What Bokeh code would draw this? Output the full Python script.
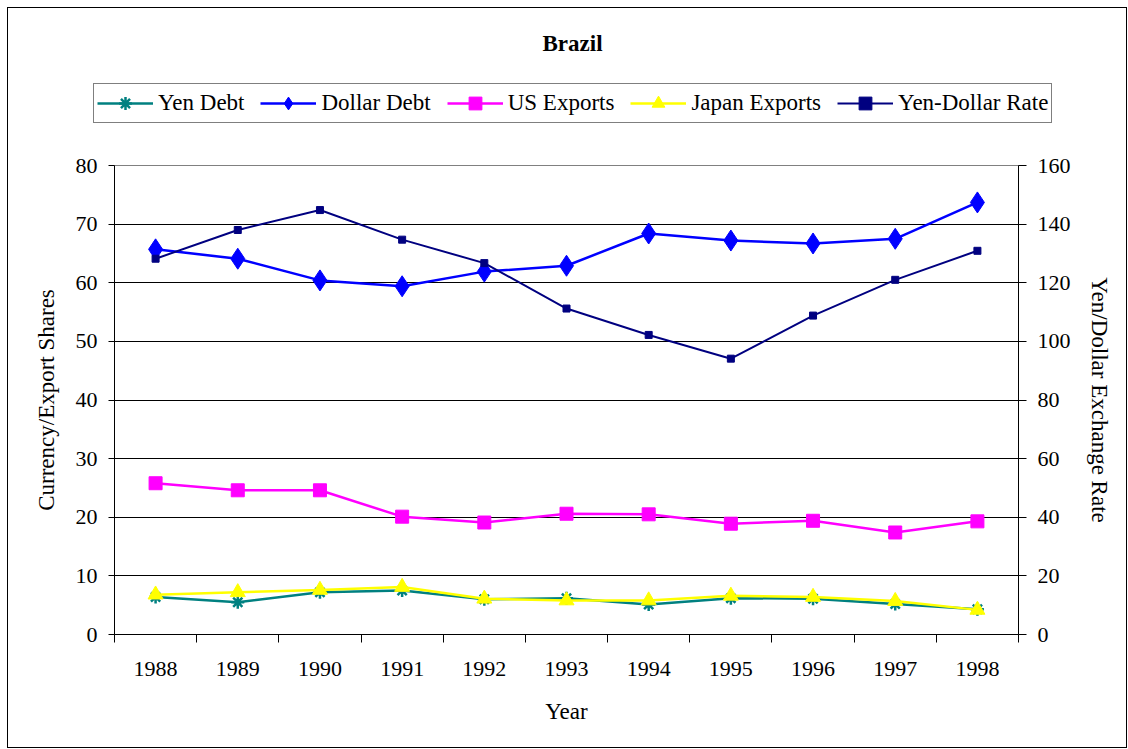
from bokeh.plotting import figure
from bokeh.models import (Range1d, LinearAxis, FixedTicker, Legend, LegendItem, Label)
from bokeh.layouts import column
from bokeh.embed import file_html
from bokeh.resources import INLINE

years = [1988, 1989, 1990, 1991, 1992, 1993, 1994, 1995, 1996, 1997, 1998]
yen_debt = [6.4, 5.5, 7.2, 7.5, 6.0, 6.2, 5.1, 6.2, 6.1, 5.2, 4.3]
dollar_debt = [65.7, 64.1, 60.4, 59.4, 61.9, 62.9, 68.4, 67.2, 66.7, 67.5, 73.7]
us_exports = [25.8, 24.6, 24.6, 20.1, 19.1, 20.6, 20.5, 18.9, 19.4, 17.4, 19.3]
japan_exports = [6.8, 7.2, 7.6, 8.1, 6.1, 5.8, 5.8, 6.6, 6.4, 5.7, 4.2]
yen_dollar_rate = [128.2, 138.0, 144.8, 134.7, 126.7, 111.2, 102.2, 94.1, 108.8, 121.0, 130.9]

series_names = ["Yen Debt", "Dollar Debt", "US Exports", "Japan Exports", "Yen-Dollar Rate"]
left_ticks = [0, 10, 20, 30, 40, 50, 60, 70, 80]
right_ticks = [0, 20, 40, 60, 80, 100, 120, 140, 160]

FONT = "Liberation Serif"
FS = "23px"
TFS = "22px"
TXT = "black"

# series styles
styles = [
    dict(color="#008080", marker="asterisk", size=13, lw=2.5),
    dict(color="#0000FF", marker="diamond", size=21, lw=2.5),
    dict(color="#FF00FF", marker="square", size=13, lw=2.5),
    dict(color="#FFFF00", marker="triangle", size=15, lw=2.5),
    dict(color="#000080", marker="square", size=7, lw=2),
]
data = [yen_debt, dollar_debt, us_exports, japan_exports, yen_dollar_rate]

W = 1118
H_TOP = 116
H_MAIN = 739 - H_TOP


def add_series(fig, vals, st, **kw):
    lr = fig.line(years, vals, line_color=st["color"], line_width=st["lw"], **kw)
    if st["marker"] == "asterisk":
        mr = fig.scatter(years, vals, marker="asterisk", size=st["size"], line_color=st["color"],
                         line_width=2.5, **kw)
    else:
        mr = fig.scatter(years, vals, marker=st["marker"], size=st["size"], fill_color=st["color"],
                         line_color=st["color"], **kw)
    return lr, mr


def style_axis(ax, label, label_standoff, tick_out, major_standoff):
    ax.major_tick_out = tick_out
    ax.major_tick_in = 0
    ax.minor_tick_line_color = None
    ax.axis_line_color = "black"
    ax.major_tick_line_color = "black"
    ax.major_label_text_font = FONT
    ax.major_label_text_font_size = TFS
    ax.major_label_text_color = TXT
    ax.major_label_standoff = major_standoff
    ax.axis_label = label
    ax.axis_label_text_font = FONT
    ax.axis_label_text_font_size = FS
    ax.axis_label_text_font_style = "normal"
    ax.axis_label_text_color = TXT
    ax.axis_label_standoff = label_standoff


# ---------------- top strip: title + legend ----------------
# the series are drawn here outside the visible ranges, only to feed the legend
top = figure(width=W, height=H_TOP, output_backend="svg", toolbar_location=None,
             x_range=Range1d(0, 1), y_range=Range1d(0, 1),
             min_border=0, min_border_left=0, min_border_right=0,
             min_border_top=0, min_border_bottom=0)
top.frame_align = False
top.axis.visible = False
top.grid.visible = False
top.outline_line_color = None
top.border_fill_color = "white"
top.background_fill_color = "white"

items = []
for name, vals, st in zip(series_names, data, styles):
    lr, mr = add_series(top, vals, st)
    items.append(LegendItem(label=name, renderers=[lr, mr]))

legend = Legend(items=items, orientation="horizontal", location=(85, 1))
legend.label_text_font = FONT
legend.label_text_font_size = FS
legend.label_text_color = TXT
legend.glyph_width = 56
legend.glyph_height = 32
legend.label_standoff = 5
legend.spacing = 16
legend.padding = 3
legend.margin = 0
legend.border_line_color = "black"
legend.border_line_width = 1
legend.background_fill_alpha = 1
top.add_layout(legend, "center")

top.add_layout(Label(x=564, y=H_TOP - 35, x_units="screen", y_units="screen", text="Brazil",
                     text_font=FONT, text_font_size=FS, text_font_style="bold", text_color=TXT,
                     text_align="center", text_baseline="middle"))

# ---------------- main plot ----------------
p = figure(width=W, height=H_MAIN, output_backend="svg", toolbar_location=None,
           x_range=Range1d(years[0] - 0.5, years[-1] + 0.5), y_range=Range1d(0, 80),
           min_border_left=106, min_border_right=W - 1010, min_border_top=41,
           min_border_bottom=H_MAIN - 510)
p.frame_align = False
p.outline_line_color = "#808080"
p.outline_line_width = 1
p.background_fill_color = "white"
p.border_fill_color = "white"

# x axis: labels at the years, tick marks between them
xa = p.xaxis[0]
style_axis(xa, "Year", 20, 0, 19)
xa.ticker = FixedTicker(ticks=years, minor_ticks=[y - 0.5 for y in years] + [years[-1] + 0.5])
xa.minor_tick_out = 8
xa.minor_tick_in = 0
xa.minor_tick_line_color = "black"
p.xgrid.visible = False

# left axis
ya = p.yaxis[0]
style_axis(ya, "Currency/Export Shares", 14, 6, 11)
ya.ticker = FixedTicker(ticks=left_ticks)
p.ygrid.ticker = FixedTicker(ticks=left_ticks[1:-1])
p.ygrid.grid_line_color = "black"
p.ygrid.grid_line_width = 1

# right axis
p.extra_y_ranges = {"rate": Range1d(0, 160)}
ra = LinearAxis(y_range_name="rate", ticker=FixedTicker(ticks=right_ticks))
style_axis(ra, "Yen/Dollar Exchange Rate", 13, 8, 11)
p.add_layout(ra, "right")

# series
for i, (vals, st) in enumerate(zip(data, styles)):
    kw = {"y_range_name": "rate"} if i == 4 else {}
    add_series(p, vals, st, **kw)

layout = column(top, p, spacing=0)
layout.styles = {"border": "1px solid black", "margin-left": "7px", "margin-top": "7px",
                 "background-color": "white"}

open("out.html", "w").write(file_html(layout, INLINE))
